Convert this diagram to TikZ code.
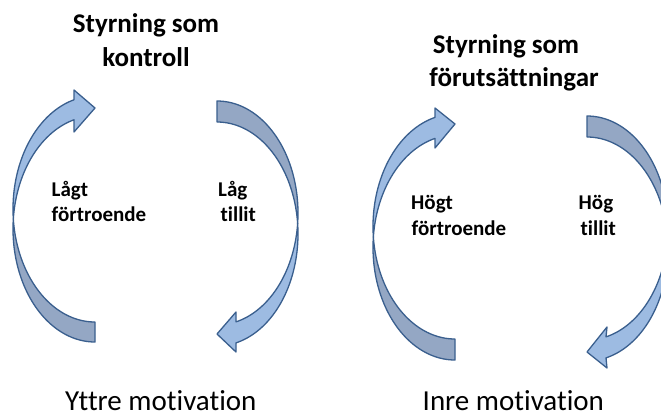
\documentclass[tikz,border=0pt]{standalone}
\usepackage{fontspec}
\setmainfont{Carlito}[Ligatures={NoCommon}]
\definecolor{lightband}{RGB}{157,187,226}
\definecolor{darkband}{RGB}{148,167,196}
\definecolor{bandline}{RGB}{58,95,142}
\begin{document}
\begin{tikzpicture}[x=1pt,y=-1pt,
  band/.style={draw=bandline, line width=1.3pt, line join=round},
  front/.style={band, fill=lightband},
  back/.style={band, fill=darkband},
  titletext/.style={font=\fontsize{27}{32}\selectfont\bfseries, inner sep=0pt, anchor=base},
  lbl/.style={font=\fontsize{21}{25}\selectfont\bfseries, inner sep=0pt, anchor=base west},
  bottomtext/.style={font=\fontsize{29}{34}\selectfont, inner sep=0pt, anchor=base west}]
\clip (0,0) rectangle (661,418);
\fill[white] (0,0) rectangle (661,418);

% ---- left diagram, left arrow (points right at top)
\draw[back] plot[domain=185.08:90, samples=60, variable=\t] ({95+82*cos(\t)},{229+113*sin(\t)})
  -- plot[domain=90:174.92, samples=60, variable=\t] ({95+82*cos(\t)},{209+113*sin(\t)}) -- cycle;
\draw[front] plot[domain=174.92:255.16, samples=60, variable=\t] ({95+82*cos(\t)},{209+113*sin(\t)})
  -- (74,90) -- (95,108) -- (74,132)
  -- plot[domain=255.16:185.08, samples=60, variable=\t] ({95+82*cos(\t)},{229+113*sin(\t)}) -- cycle;

% ---- left diagram, right arrow (points left at bottom)
\draw[back] plot[domain=-90:5.38, samples=60, variable=\t] ({217+81*cos(\t)},{213+112*sin(\t)})
  -- plot[domain=-5.38:-90, samples=60, variable=\t] ({217+81*cos(\t)},{234+112*sin(\t)}) -- cycle;
\draw[front] plot[domain=-5.38:76.43, samples=60, variable=\t] ({217+81*cos(\t)},{234+112*sin(\t)})
  -- (236,352) -- (217,334) -- (236,312)
  -- plot[domain=76.43:5.38, samples=60, variable=\t] ({217+81*cos(\t)},{213+112*sin(\t)}) -- cycle;

% ---- right diagram, left arrow
\draw[back] plot[domain=185.36:90, samples=60, variable=\t] ({455+82*cos(\t)},{247.5+112.5*sin(\t)})
  -- plot[domain=90:174.64, samples=60, variable=\t] ({455+82*cos(\t)},{226.5+112.5*sin(\t)}) -- cycle;
\draw[front] plot[domain=174.64:255.88, samples=60, variable=\t] ({455+82*cos(\t)},{226.5+112.5*sin(\t)})
  -- (435,108) -- (455,124) -- (435,148)
  -- plot[domain=255.88:185.36, samples=60, variable=\t] ({455+82*cos(\t)},{247.5+112.5*sin(\t)}) -- cycle;

% ---- right diagram, right arrow
\draw[back] plot[domain=-90:5.38, samples=60, variable=\t] ({587+81*cos(\t)},{228+112*sin(\t)})
  -- plot[domain=-5.38:-90, samples=60, variable=\t] ({587+81*cos(\t)},{249+112*sin(\t)}) -- cycle;
\draw[front] plot[domain=-5.38:76.43, samples=60, variable=\t] ({587+81*cos(\t)},{249+112*sin(\t)})
  -- (607,368) -- (587,352) -- (607,327)
  -- plot[domain=76.43:5.38, samples=60, variable=\t] ({587+81*cos(\t)},{228+112*sin(\t)}) -- cycle;

% ---- titles
\node[titletext] (t1a) at (146,32.3) {Styrning som};
\node[titletext] (t1b) at (146,66.7) {kontroll};
\node[titletext] (t2a) at (506,53.3) {Styrning som};
\node[titletext] (t2b) at (514,86.7) {förutsättningar};

% ---- labels
\node[lbl] (l1a) at (51.5,196.7) {Lågt};
\node[lbl] (l1b) at (51.5,221.7) {förtroende};
\node[lbl] (l2a) at (218,196.7) {Låg};
\node[lbl] (l2b) at (220.5,221.7) {tillit};
\node[lbl] (r1a) at (411,209.3) {Högt};
\node[lbl] (r1b) at (411.5,235) {förtroende};
\node[lbl] (r2a) at (578.5,209.3) {Hög};
\node[lbl] (r2b) at (580.5,235) {tillit};

% ---- bottom captions
\node[bottomtext] (b1) at (65,410) {Yttre motivation};
\node[bottomtext] (b2) at (422.5,410.5) {Inre motivation};
\end{tikzpicture}
\end{document}
